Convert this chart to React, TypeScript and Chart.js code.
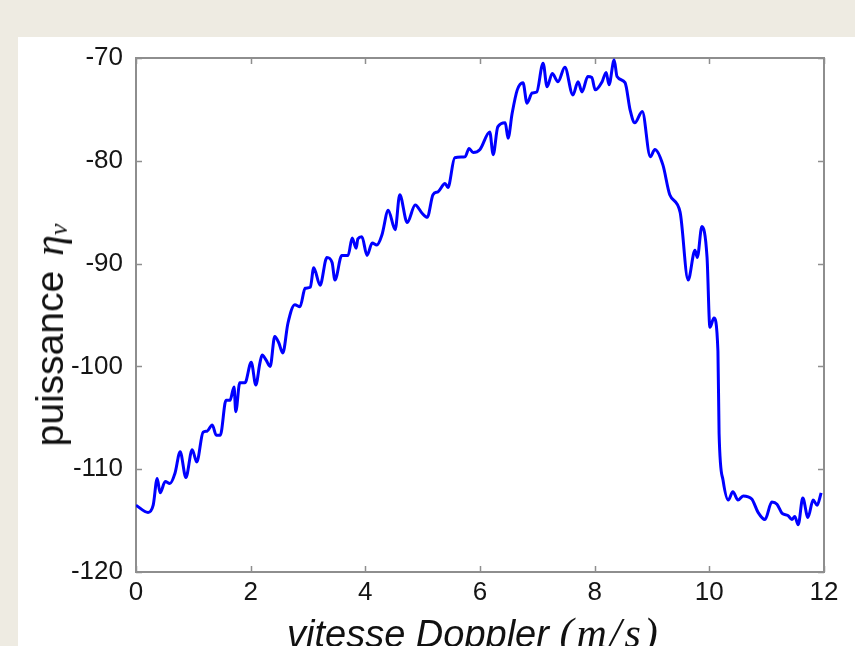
import React, { useEffect, useRef } from "react";
import { Chart, registerables } from "chart.js";

Chart.register(...registerables);

// Doppler velocity (m/s)
const velocity = [
  0, 0.21, 0.3, 0.37, 0.42, 0.51, 0.59, 0.68, 0.77, 0.87,
  0.98, 1.06, 1.17, 1.24, 1.33, 1.4, 1.47, 1.57, 1.64, 1.71,
  1.74, 1.81, 1.9, 2.01, 2.09, 2.16, 2.2, 2.27, 2.34, 2.42,
  2.49, 2.56, 2.65, 2.77, 2.86, 2.95, 3.04, 3.1, 3.21, 3.33,
  3.42, 3.47, 3.59, 3.7, 3.77, 3.84, 3.87, 3.94, 4.03, 4.12,
  4.2, 4.29, 4.4, 4.52, 4.6, 4.73, 4.87, 4.99, 5.08, 5.18,
  5.27, 5.39, 5.44, 5.56, 5.74, 5.81, 5.88, 6.0, 6.17, 6.23,
  6.31, 6.44, 6.49, 6.56, 6.65, 6.75, 6.82, 6.91, 6.99, 7.1,
  7.17, 7.26, 7.36, 7.48, 7.62, 7.71, 7.78, 7.88, 7.95, 8.01,
  8.13, 8.2, 8.25, 8.34, 8.39, 8.53, 8.62, 8.7, 8.83, 8.97,
  9.05, 9.19, 9.31, 9.49, 9.63, 9.75, 9.79, 9.87, 9.96, 10.01,
  10.08, 10.15, 10.17, 10.24, 10.33, 10.41, 10.5, 10.59, 10.74, 10.85,
  10.97, 11.09, 11.18, 11.27, 11.37, 11.44, 11.49, 11.55, 11.63, 11.72,
  11.81, 11.88, 11.95,
];

// Power (puissance)
const power = [
  -113.5, -114.2, -113.5, -110.9, -112.3, -111.2, -111.4, -110.4, -108.3, -110.8,
  -108.1, -109.3, -106.4, -106.3, -105.7, -106.7, -106.7, -103.3, -103.3, -102.0,
  -104.4, -101.6, -101.6, -99.6, -101.8, -99.7, -98.9, -99.4, -100.0, -97.1,
  -97.7, -98.7, -95.8, -94.0, -94.2, -92.4, -92.3, -90.4, -92.1, -89.4,
  -89.9, -91.6, -89.2, -89.2, -87.5, -88.5, -87.6, -87.4, -89.2, -88.0,
  -88.2, -87.2, -84.8, -86.7, -83.3, -86.0, -84.3, -85.1, -85.5, -83.3,
  -83.0, -82.2, -82.6, -79.7, -79.6, -78.8, -79.2, -78.9, -77.2, -79.4,
  -76.7, -76.3, -77.8, -75.4, -73.1, -72.4, -74.4, -73.4, -73.3, -70.5,
  -72.8, -71.5, -72.3, -70.9, -73.6, -72.3, -73.3, -71.8, -71.9, -73.1,
  -72.3, -71.4, -72.6, -70.2, -71.8, -72.4, -75.1, -76.3, -75.2, -79.6,
  -78.9, -80.4, -83.3, -85.0, -91.6, -88.7, -89.4, -86.4, -89.4, -96.2,
  -95.3, -98.5, -106.5, -111.1, -113.0, -112.2, -113.0, -112.6, -112.9, -114.2,
  -114.9, -113.2, -113.4, -114.3, -114.5, -114.9, -114.6, -115.4, -112.8, -114.7,
  -113.0, -113.5, -112.3,
];

const xTicks = [0, 2, 4, 6, 8, 10, 12];
const yTicks = [-120, -110, -100, -90, -80, -70];

const framePlugin = {
  id: "matlabFrame",
  beforeDatasetsDraw(chart: any) {
    const { ctx, chartArea: a, scales } = chart;
    ctx.save();
    ctx.strokeStyle = "#8e8e8e";
    ctx.lineWidth = 2;
    ctx.strokeRect(a.left, a.top, a.right - a.left, a.bottom - a.top);
    ctx.lineWidth = 1.5;
    const L = 6;
    ctx.beginPath();
    for (const v of xTicks) {
      const px = Math.round(scales.x.getPixelForValue(v)) + 0.5;
      ctx.moveTo(px, a.bottom);
      ctx.lineTo(px, a.bottom - L);
      ctx.moveTo(px, a.top);
      ctx.lineTo(px, a.top + L);
    }
    for (const v of yTicks) {
      const py = Math.round(scales.y.getPixelForValue(v)) + 0.5;
      ctx.moveTo(a.left, py);
      ctx.lineTo(a.left + L, py);
      ctx.moveTo(a.right, py);
      ctx.lineTo(a.right - L, py);
    }
    ctx.stroke();
    ctx.restore();
  },
};

export default function App() {
  const canvasRef = useRef<HTMLCanvasElement | null>(null);

  useEffect(() => {
    if (!canvasRef.current) return;
    const tickFont = { family: "'Liberation Sans', Arial, sans-serif", size: 26 };
    const chart = new Chart(canvasRef.current, {
      type: "line",
      data: {
        datasets: [
          {
            data: velocity.map((v, i) => ({ x: v, y: power[i] })),
            borderColor: "#0000ff",
            borderWidth: 3,
            pointRadius: 0,
            cubicInterpolationMode: "monotone",
            fill: false,
          },
        ],
      },
      options: {
        animation: false,
        responsive: false,
        devicePixelRatio: 1,
        events: [],
        layout: { padding: { top: 58, right: 31, left: 0, bottom: 0 } },
        plugins: { legend: { display: false }, tooltip: { enabled: false } },
        scales: {
          x: {
            type: "linear",
            min: 0,
            max: 12,
            grid: { display: false },
            border: { display: false },
            afterFit: (s: any) => {
              s.height = 74;
            },
            afterBuildTicks: (s: any) => {
              s.ticks = xTicks.map((v) => ({ value: v }));
            },
            ticks: {
              font: tickFont,
              color: "#151515",
              padding: -3,
              maxRotation: 0,
              autoSkip: false,
              callback: (v: any) => String(v),
            },
          },
          y: {
            type: "linear",
            min: -120,
            max: -70,
            grid: { display: false },
            border: { display: false },
            afterFit: (s: any) => {
              s.width = 136;
            },
            afterBuildTicks: (s: any) => {
              s.ticks = yTicks.map((v) => ({ value: v }));
            },
            ticks: {
              font: tickFont,
              color: "#151515",
              padding: 5,
              autoSkip: false,
              callback: (v: any) => String(v),
            },
          },
        },
      },
      plugins: [framePlugin],
    } as any);
    return () => chart.destroy();
  }, []);

  return (
    <div
      style={{
        position: "fixed",
        left: 0,
        top: 0,
        width: 855,
        height: 646,
        background: "#eeebe2",
        overflow: "hidden",
      }}
    >
      <div
        style={{
          position: "absolute",
          left: 18,
          top: 37,
          right: 0,
          bottom: 0,
          background: "#ffffff",
        }}
      />
      <canvas
        ref={canvasRef}
        width={855}
        height={646}
        style={{ position: "absolute", left: 0, top: 0, width: 855, height: 646 }}
      />
      <div
        style={{
          position: "absolute",
          left: 49,
          top: 335,
          transform: "translate(-50%, -50%) rotate(-90deg)",
          whiteSpace: "nowrap",
          fontFamily: "'Liberation Sans', Arial, sans-serif",
          fontSize: 39,
          lineHeight: 1,
          color: "#111",
        }}
      >
        puissance{" "}
        <span style={{ fontFamily: "'Liberation Serif', serif", fontStyle: "italic", fontSize: 42, marginLeft: 4 }}>
          η
          <span style={{ fontSize: 26, position: "relative", top: 4 }}>v</span>
        </span>
      </div>
      <div
        style={{
          position: "absolute",
          left: 287,
          top: 612,
          whiteSpace: "nowrap",
          fontFamily: "'Liberation Sans', Arial, sans-serif",
          fontStyle: "italic",
          fontSize: 38,
          lineHeight: 1,
          color: "#111",
        }}
      >
        vitesse Doppler{" "}
        <span style={{ fontFamily: "'Liberation Serif', serif", fontSize: 42, letterSpacing: 3 }}>
          (m/s)
        </span>
      </div>
    </div>
  );
}
